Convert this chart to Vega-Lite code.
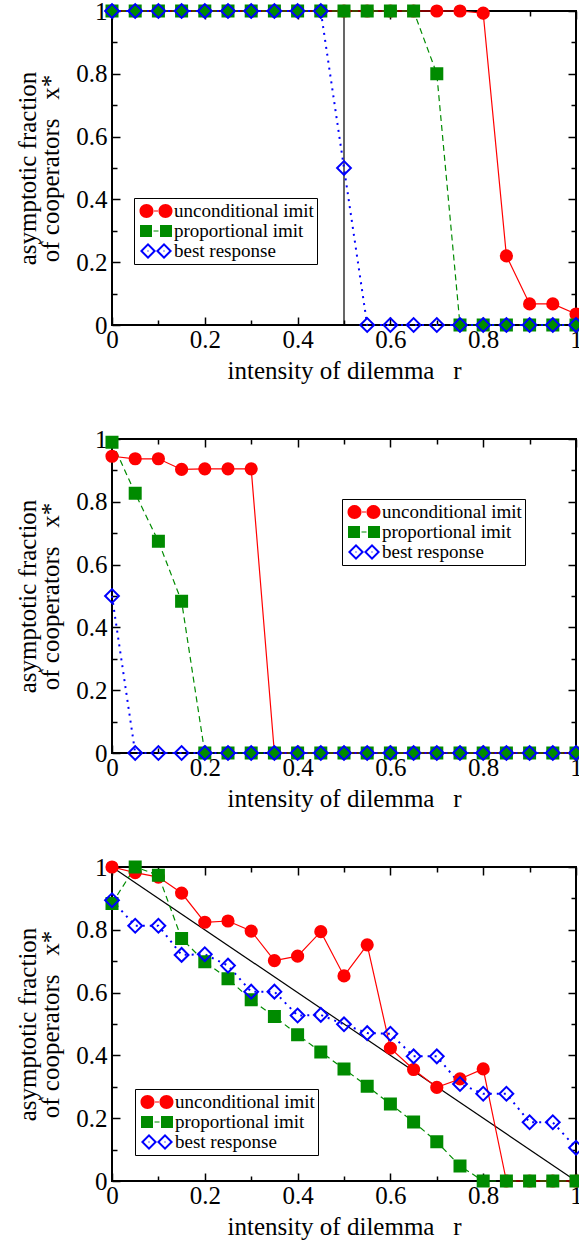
{
"$schema":"https://vega.github.io/schema/vega-lite/v6.json",
"padding":{"left":14,"top":-2,"right":0,"bottom":0},
"spacing":114,
"bounds":"flush",
"resolve":{"scale":{"fill":"independent","shape":"independent"},"legend":{"fill":"independent","shape":"independent"}},
"config":{
 "font":"Liberation Serif",
 "view":{"stroke":"black","strokeWidth":2},
 "axis":{"domain":false,"grid":false,"labelFont":"Liberation Serif","labelFontSize":25,"labelColor":"black","titleFont":"Liberation Serif","titleFontSize":25,"titleFontWeight":"normal","titleColor":"black","tickColor":"black","tickWidth":1.5,"labelFlush":false,"labelOverlap":false},
 "legend":{"labelFont":"Liberation Serif","labelFontSize":19,"labelColor":"black","labelLimit":0}
},
"datasets":{
"p1":[
{"r":0,"x":1,"series":"unconditional imit"},{"r":0.05,"x":1,"series":"unconditional imit"},{"r":0.1,"x":1,"series":"unconditional imit"},{"r":0.15,"x":1,"series":"unconditional imit"},{"r":0.2,"x":1,"series":"unconditional imit"},{"r":0.25,"x":1,"series":"unconditional imit"},{"r":0.3,"x":1,"series":"unconditional imit"},{"r":0.35,"x":1,"series":"unconditional imit"},{"r":0.4,"x":1,"series":"unconditional imit"},{"r":0.45,"x":1,"series":"unconditional imit"},{"r":0.5,"x":1,"series":"unconditional imit"},{"r":0.55,"x":1,"series":"unconditional imit"},{"r":0.6,"x":1,"series":"unconditional imit"},{"r":0.65,"x":1,"series":"unconditional imit"},{"r":0.7,"x":1,"series":"unconditional imit"},{"r":0.75,"x":1,"series":"unconditional imit"},{"r":0.8,"x":0.993,"series":"unconditional imit"},{"r":0.85,"x":0.22,"series":"unconditional imit"},{"r":0.9,"x":0.067,"series":"unconditional imit"},{"r":0.95,"x":0.067,"series":"unconditional imit"},{"r":1,"x":0.035,"series":"unconditional imit"},
{"r":0,"x":1,"series":"proportional imit"},{"r":0.05,"x":1,"series":"proportional imit"},{"r":0.1,"x":1,"series":"proportional imit"},{"r":0.15,"x":1,"series":"proportional imit"},{"r":0.2,"x":1,"series":"proportional imit"},{"r":0.25,"x":1,"series":"proportional imit"},{"r":0.3,"x":1,"series":"proportional imit"},{"r":0.35,"x":1,"series":"proportional imit"},{"r":0.4,"x":1,"series":"proportional imit"},{"r":0.45,"x":1,"series":"proportional imit"},{"r":0.5,"x":1,"series":"proportional imit"},{"r":0.55,"x":1,"series":"proportional imit"},{"r":0.6,"x":1,"series":"proportional imit"},{"r":0.65,"x":1,"series":"proportional imit"},{"r":0.7,"x":0.8,"series":"proportional imit"},{"r":0.75,"x":0,"series":"proportional imit"},{"r":0.8,"x":0,"series":"proportional imit"},{"r":0.85,"x":0,"series":"proportional imit"},{"r":0.9,"x":0,"series":"proportional imit"},{"r":0.95,"x":0,"series":"proportional imit"},{"r":1,"x":0,"series":"proportional imit"},
{"r":0,"x":1,"series":"best response"},{"r":0.05,"x":1,"series":"best response"},{"r":0.1,"x":1,"series":"best response"},{"r":0.15,"x":1,"series":"best response"},{"r":0.2,"x":1,"series":"best response"},{"r":0.25,"x":1,"series":"best response"},{"r":0.3,"x":1,"series":"best response"},{"r":0.35,"x":1,"series":"best response"},{"r":0.4,"x":1,"series":"best response"},{"r":0.45,"x":1,"series":"best response"},{"r":0.5,"x":0.5,"series":"best response"},{"r":0.55,"x":0,"series":"best response"},{"r":0.6,"x":0,"series":"best response"},{"r":0.65,"x":0,"series":"best response"},{"r":0.7,"x":0,"series":"best response"},{"r":0.75,"x":0,"series":"best response"},{"r":0.8,"x":0,"series":"best response"},{"r":0.85,"x":0,"series":"best response"},{"r":0.9,"x":0,"series":"best response"},{"r":0.95,"x":0,"series":"best response"},{"r":1,"x":0,"series":"best response"}
],
"p2":[
{"r":0,"x":0.945,"series":"unconditional imit"},{"r":0.05,"x":0.937,"series":"unconditional imit"},{"r":0.1,"x":0.937,"series":"unconditional imit"},{"r":0.15,"x":0.903,"series":"unconditional imit"},{"r":0.2,"x":0.905,"series":"unconditional imit"},{"r":0.25,"x":0.905,"series":"unconditional imit"},{"r":0.3,"x":0.905,"series":"unconditional imit"},{"r":0.35,"x":0,"series":"unconditional imit"},{"r":0.4,"x":0,"series":"unconditional imit"},{"r":0.45,"x":0,"series":"unconditional imit"},{"r":0.5,"x":0,"series":"unconditional imit"},{"r":0.55,"x":0,"series":"unconditional imit"},{"r":0.6,"x":0,"series":"unconditional imit"},{"r":0.65,"x":0,"series":"unconditional imit"},{"r":0.7,"x":0,"series":"unconditional imit"},{"r":0.75,"x":0,"series":"unconditional imit"},{"r":0.8,"x":0,"series":"unconditional imit"},{"r":0.85,"x":0,"series":"unconditional imit"},{"r":0.9,"x":0,"series":"unconditional imit"},{"r":0.95,"x":0,"series":"unconditional imit"},{"r":1,"x":0,"series":"unconditional imit"},
{"r":0,"x":0.99,"series":"proportional imit"},{"r":0.05,"x":0.827,"series":"proportional imit"},{"r":0.1,"x":0.674,"series":"proportional imit"},{"r":0.15,"x":0.483,"series":"proportional imit"},{"r":0.2,"x":0,"series":"proportional imit"},{"r":0.25,"x":0,"series":"proportional imit"},{"r":0.3,"x":0,"series":"proportional imit"},{"r":0.35,"x":0,"series":"proportional imit"},{"r":0.4,"x":0,"series":"proportional imit"},{"r":0.45,"x":0,"series":"proportional imit"},{"r":0.5,"x":0,"series":"proportional imit"},{"r":0.55,"x":0,"series":"proportional imit"},{"r":0.6,"x":0,"series":"proportional imit"},{"r":0.65,"x":0,"series":"proportional imit"},{"r":0.7,"x":0,"series":"proportional imit"},{"r":0.75,"x":0,"series":"proportional imit"},{"r":0.8,"x":0,"series":"proportional imit"},{"r":0.85,"x":0,"series":"proportional imit"},{"r":0.9,"x":0,"series":"proportional imit"},{"r":0.95,"x":0,"series":"proportional imit"},{"r":1,"x":0,"series":"proportional imit"},
{"r":0,"x":0.5,"series":"best response"},{"r":0.05,"x":0,"series":"best response"},{"r":0.1,"x":0,"series":"best response"},{"r":0.15,"x":0,"series":"best response"},{"r":0.2,"x":0,"series":"best response"},{"r":0.25,"x":0,"series":"best response"},{"r":0.3,"x":0,"series":"best response"},{"r":0.35,"x":0,"series":"best response"},{"r":0.4,"x":0,"series":"best response"},{"r":0.45,"x":0,"series":"best response"},{"r":0.5,"x":0,"series":"best response"},{"r":0.55,"x":0,"series":"best response"},{"r":0.6,"x":0,"series":"best response"},{"r":0.65,"x":0,"series":"best response"},{"r":0.7,"x":0,"series":"best response"},{"r":0.75,"x":0,"series":"best response"},{"r":0.8,"x":0,"series":"best response"},{"r":0.85,"x":0,"series":"best response"},{"r":0.9,"x":0,"series":"best response"},{"r":0.95,"x":0,"series":"best response"},{"r":1,"x":0,"series":"best response"}
],
"p3":[
{"r":0,"x":1,"series":"unconditional imit"},{"r":0.05,"x":0.982,"series":"unconditional imit"},{"r":0.1,"x":0.968,"series":"unconditional imit"},{"r":0.15,"x":0.917,"series":"unconditional imit"},{"r":0.2,"x":0.824,"series":"unconditional imit"},{"r":0.25,"x":0.828,"series":"unconditional imit"},{"r":0.3,"x":0.796,"series":"unconditional imit"},{"r":0.35,"x":0.702,"series":"unconditional imit"},{"r":0.4,"x":0.716,"series":"unconditional imit"},{"r":0.45,"x":0.794,"series":"unconditional imit"},{"r":0.5,"x":0.653,"series":"unconditional imit"},{"r":0.55,"x":0.752,"series":"unconditional imit"},{"r":0.6,"x":0.423,"series":"unconditional imit"},{"r":0.65,"x":0.355,"series":"unconditional imit"},{"r":0.7,"x":0.298,"series":"unconditional imit"},{"r":0.75,"x":0.325,"series":"unconditional imit"},{"r":0.8,"x":0.357,"series":"unconditional imit"},{"r":0.85,"x":0,"series":"unconditional imit"},{"r":0.9,"x":0,"series":"unconditional imit"},{"r":0.95,"x":0,"series":"unconditional imit"},{"r":1,"x":0,"series":"unconditional imit"},
{"r":0,"x":0.884,"series":"proportional imit"},{"r":0.05,"x":1,"series":"proportional imit"},{"r":0.1,"x":0.974,"series":"proportional imit"},{"r":0.15,"x":0.772,"series":"proportional imit"},{"r":0.2,"x":0.698,"series":"proportional imit"},{"r":0.25,"x":0.644,"series":"proportional imit"},{"r":0.3,"x":0.577,"series":"proportional imit"},{"r":0.35,"x":0.524,"series":"proportional imit"},{"r":0.4,"x":0.466,"series":"proportional imit"},{"r":0.45,"x":0.411,"series":"proportional imit"},{"r":0.5,"x":0.357,"series":"proportional imit"},{"r":0.55,"x":0.302,"series":"proportional imit"},{"r":0.6,"x":0.245,"series":"proportional imit"},{"r":0.65,"x":0.188,"series":"proportional imit"},{"r":0.7,"x":0.125,"series":"proportional imit"},{"r":0.75,"x":0.048,"series":"proportional imit"},{"r":0.8,"x":0,"series":"proportional imit"},{"r":0.85,"x":0,"series":"proportional imit"},{"r":0.9,"x":0,"series":"proportional imit"},{"r":0.95,"x":0,"series":"proportional imit"},{"r":1,"x":0,"series":"proportional imit"},
{"r":0,"x":0.894,"series":"best response"},{"r":0.05,"x":0.813,"series":"best response"},{"r":0.1,"x":0.813,"series":"best response"},{"r":0.15,"x":0.72,"series":"best response"},{"r":0.2,"x":0.722,"series":"best response"},{"r":0.25,"x":0.686,"series":"best response"},{"r":0.3,"x":0.603,"series":"best response"},{"r":0.35,"x":0.603,"series":"best response"},{"r":0.4,"x":0.527,"series":"best response"},{"r":0.45,"x":0.529,"series":"best response"},{"r":0.5,"x":0.499,"series":"best response"},{"r":0.55,"x":0.471,"series":"best response"},{"r":0.6,"x":0.469,"series":"best response"},{"r":0.65,"x":0.397,"series":"best response"},{"r":0.7,"x":0.397,"series":"best response"},{"r":0.75,"x":0.309,"series":"best response"},{"r":0.8,"x":0.278,"series":"best response"},{"r":0.85,"x":0.278,"series":"best response"},{"r":0.9,"x":0.187,"series":"best response"},{"r":0.95,"x":0.187,"series":"best response"},{"r":1,"x":0.106,"series":"best response"}
],
"ref1":[{"r":0.5,"lo":0,"hi":1}],
"ref3":[{"r":0,"x":1},{"r":1,"x":0}]
},
"vconcat":[
{
 "width":464,"height":314,
 "data":{"name":"p1"},
 "resolve":{"axis":{"x":"independent","y":"independent"}},
 "layer":[
  {"data":{"name":"ref1"},"mark":{"type":"rule","color":"black","strokeWidth":1.2},"encoding":{"x":{"field":"r","type":"quantitative","scale":{"domain":[0,1],"nice":false,"zero":false},"axis":null},"y":{"field":"lo","type":"quantitative","scale":{"domain":[0,1],"nice":false,"zero":false},"axis":null},"y2":{"field":"hi"}}},
  {"transform":[{"filter":"datum.series=='unconditional imit'"}],"mark":{"type":"line","color":"#ff0000","strokeWidth":1.2},"encoding":{"x":{"field":"r","type":"quantitative","scale":{"domain":[0,1],"nice":false,"zero":false},"axis":{"orient":"bottom","values":[0,0.1,0.2,0.3,0.4,0.5,0.6,0.7,0.8,0.9,1],"labelExpr":"round(datum.value*10)%2==0 ? format(datum.value,'~g') : ''","tickSize":{"condition":{"test":"round(datum.value*10)%2==1","value":-5},"value":-8},"labelPadding":30,"labelBaseline":"alphabetic","title":"intensity of dilemma\u00a0\u00a0 r","titleY":53,"titleBaseline":"alphabetic"}},"y":{"field":"x","type":"quantitative","scale":{"domain":[0,1],"nice":false,"zero":false},"axis":{"orient":"left","values":[0,0.1,0.2,0.3,0.4,0.5,0.6,0.7,0.8,0.9,1],"labelExpr":"round(datum.value*10)%2==0 ? format(datum.value,'~g') : ''","tickSize":{"condition":{"test":"round(datum.value*10)%2==1","value":-5},"value":-8},"labelPadding":13,"title":["asymptotic fraction","of cooperators\u00a0\u00a0 x*"],"titleAngle":270,"titleX":-77,"titleY":157,"titleBaseline":"alphabetic","titleLineHeight":23}}}},
  {"transform":[{"filter":"datum.series=='proportional imit'"}],"mark":{"type":"line","color":"#008b00","strokeWidth":1.2,"strokeDash":[6,4]},"encoding":{"x":{"field":"r","type":"quantitative","scale":{"domain":[0,1],"nice":false,"zero":false},"axis":null},"y":{"field":"x","type":"quantitative","scale":{"domain":[0,1],"nice":false,"zero":false},"axis":null}}},
  {"transform":[{"filter":"datum.series=='best response'"}],"mark":{"type":"line","color":"#0000ff","strokeWidth":2,"strokeDash":[2,5]},"encoding":{"x":{"field":"r","type":"quantitative","scale":{"domain":[0,1],"nice":false,"zero":false},"axis":null},"y":{"field":"x","type":"quantitative","scale":{"domain":[0,1],"nice":false,"zero":false},"axis":null}}},
  {"transform":[{"filter":"datum.series=='unconditional imit'"}],"mark":{"type":"point","shape":"circle","size":125,"fill":"#ff0000","stroke":"#ff0000","strokeWidth":2,"opacity":1},"encoding":{"x":{"field":"r","type":"quantitative","scale":{"domain":[0,1],"nice":false,"zero":false},"axis":{"orient":"top","values":[0,0.1,0.2,0.3,0.4,0.5,0.6,0.7,0.8,0.9,1],"tickSize":{"condition":{"test":"round(datum.value*10)%2==1","value":-5},"value":-8},"labels":false,"title":null}},"y":{"field":"x","type":"quantitative","scale":{"domain":[0,1],"nice":false,"zero":false},"axis":{"orient":"right","values":[0,0.1,0.2,0.3,0.4,0.5,0.6,0.7,0.8,0.9,1],"tickSize":{"condition":{"test":"round(datum.value*10)%2==1","value":-5},"value":-8},"labels":false,"title":null}}}},
  {"transform":[{"filter":"datum.series=='proportional imit'"}],"mark":{"type":"point","shape":"square","size":121,"fill":"#008b00","stroke":"#008b00","strokeWidth":2,"opacity":1},"encoding":{"x":{"field":"r","type":"quantitative","scale":{"domain":[0,1],"nice":false,"zero":false},"axis":null},"y":{"field":"x","type":"quantitative","scale":{"domain":[0,1],"nice":false,"zero":false},"axis":null}}},
  {"transform":[{"filter":"datum.series=='best response'"}],"mark":{"type":"point","shape":"diamond","size":190,"fill":"transparent","stroke":"#0000ff","strokeWidth":2,"opacity":1},"encoding":{"x":{"field":"r","type":"quantitative","scale":{"domain":[0,1],"nice":false,"zero":false},"axis":null},"y":{"field":"x","type":"quantitative","scale":{"domain":[0,1],"nice":false,"zero":false},"axis":null}}},
  {"transform":[{"filter":"datum.r < 0"}],"mark":{"type":"point","filled":true,"opacity":1},"encoding":{"x":{"field":"r","type":"quantitative","scale":{"domain":[0,1],"nice":false,"zero":false},"axis":null},"y":{"field":"x","type":"quantitative","scale":{"domain":[0,1],"nice":false,"zero":false},"axis":null},
   "fill":{"field":"series","type":"nominal","scale":{"domain":["unconditional imit","proportional imit","best response"],"range":["#ff0000","#008b00","#0000ff"]},"legend":{"title":null,"orient":"none","legendX":22,"legendY":187,"direction":"vertical","strokeColor":"black","fillColor":"white","padding":3,"labelOffset":8,"labelExpr":"datum.label + '\u00a0'","symbolSize":400,"symbolStrokeWidth":0,"symbolOpacity":1,"symbolOffset":9,"rowPadding":0}},
   "shape":{"field":"series","type":"nominal","scale":{"domain":["unconditional imit","proportional imit","best response"],"range":["M-1.65,0a0.7,0.7 0 1,0 1.4,0a0.7,0.7 0 1,0 -1.4,0ZM0.25,0a0.7,0.7 0 1,0 1.4,0a0.7,0.7 0 1,0 -1.4,0ZM-0.3,-0.06h0.6v0.12h-0.6Z","M-1.6,-0.6h1.2v1.2h-1.2ZM0.4,-0.6h1.2v1.2h-1.2ZM-0.25,-0.06h0.5v0.12h-0.5Z","M-1.6,0L-0.8,-0.8L0,0L-0.8,0.8ZM-1.32,0L-0.8,0.52L-0.28,0L-0.8,-0.52ZM-0.86,-0.06h0.12v0.12h-0.12ZM0,0L0.8,-0.8L1.6,0L0.8,0.8ZM0.28,0L0.8,0.52L1.32,0L0.8,-0.52ZM0.74,-0.06h0.12v0.12h-0.12Z"]},"legend":{"title":null,"orient":"none","legendX":22,"legendY":187,"direction":"vertical","strokeColor":"black","fillColor":"white","padding":3,"labelOffset":8,"labelExpr":"datum.label + '\u00a0'","symbolSize":400,"symbolStrokeWidth":0,"symbolOpacity":1,"symbolOffset":9,"rowPadding":0}}}}
 ]
},
{
 "width":464,"height":314,
 "data":{"name":"p2"},
 "resolve":{"axis":{"x":"independent","y":"independent"}},
 "layer":[
  {"transform":[{"filter":"datum.series=='unconditional imit'"}],"mark":{"type":"line","color":"#ff0000","strokeWidth":1.2},"encoding":{"x":{"field":"r","type":"quantitative","scale":{"domain":[0,1],"nice":false,"zero":false},"axis":{"orient":"bottom","values":[0,0.1,0.2,0.3,0.4,0.5,0.6,0.7,0.8,0.9,1],"labelExpr":"round(datum.value*10)%2==0 ? format(datum.value,'~g') : ''","tickSize":{"condition":{"test":"round(datum.value*10)%2==1","value":-5},"value":-8},"labelPadding":30,"labelBaseline":"alphabetic","title":"intensity of dilemma\u00a0\u00a0 r","titleY":53,"titleBaseline":"alphabetic"}},"y":{"field":"x","type":"quantitative","scale":{"domain":[0,1],"nice":false,"zero":false},"axis":{"orient":"left","values":[0,0.1,0.2,0.3,0.4,0.5,0.6,0.7,0.8,0.9,1],"labelExpr":"round(datum.value*10)%2==0 ? format(datum.value,'~g') : ''","tickSize":{"condition":{"test":"round(datum.value*10)%2==1","value":-5},"value":-8},"labelPadding":13,"title":["asymptotic fraction","of cooperators\u00a0\u00a0 x*"],"titleAngle":270,"titleX":-77,"titleY":157,"titleBaseline":"alphabetic","titleLineHeight":23}}}},
  {"transform":[{"filter":"datum.series=='proportional imit'"}],"mark":{"type":"line","color":"#008b00","strokeWidth":1.2,"strokeDash":[6,4]},"encoding":{"x":{"field":"r","type":"quantitative","scale":{"domain":[0,1],"nice":false,"zero":false},"axis":null},"y":{"field":"x","type":"quantitative","scale":{"domain":[0,1],"nice":false,"zero":false},"axis":null}}},
  {"transform":[{"filter":"datum.series=='best response'"}],"mark":{"type":"line","color":"#0000ff","strokeWidth":2,"strokeDash":[2,5]},"encoding":{"x":{"field":"r","type":"quantitative","scale":{"domain":[0,1],"nice":false,"zero":false},"axis":null},"y":{"field":"x","type":"quantitative","scale":{"domain":[0,1],"nice":false,"zero":false},"axis":null}}},
  {"transform":[{"filter":"datum.series=='unconditional imit'"}],"mark":{"type":"point","shape":"circle","size":125,"fill":"#ff0000","stroke":"#ff0000","strokeWidth":2,"opacity":1},"encoding":{"x":{"field":"r","type":"quantitative","scale":{"domain":[0,1],"nice":false,"zero":false},"axis":{"orient":"top","values":[0,0.1,0.2,0.3,0.4,0.5,0.6,0.7,0.8,0.9,1],"tickSize":{"condition":{"test":"round(datum.value*10)%2==1","value":-5},"value":-8},"labels":false,"title":null}},"y":{"field":"x","type":"quantitative","scale":{"domain":[0,1],"nice":false,"zero":false},"axis":{"orient":"right","values":[0,0.1,0.2,0.3,0.4,0.5,0.6,0.7,0.8,0.9,1],"tickSize":{"condition":{"test":"round(datum.value*10)%2==1","value":-5},"value":-8},"labels":false,"title":null}}}},
  {"transform":[{"filter":"datum.series=='proportional imit'"}],"mark":{"type":"point","shape":"square","size":121,"fill":"#008b00","stroke":"#008b00","strokeWidth":2,"opacity":1},"encoding":{"x":{"field":"r","type":"quantitative","scale":{"domain":[0,1],"nice":false,"zero":false},"axis":null},"y":{"field":"x","type":"quantitative","scale":{"domain":[0,1],"nice":false,"zero":false},"axis":null}}},
  {"transform":[{"filter":"datum.series=='best response'"}],"mark":{"type":"point","shape":"diamond","size":190,"fill":"transparent","stroke":"#0000ff","strokeWidth":2,"opacity":1},"encoding":{"x":{"field":"r","type":"quantitative","scale":{"domain":[0,1],"nice":false,"zero":false},"axis":null},"y":{"field":"x","type":"quantitative","scale":{"domain":[0,1],"nice":false,"zero":false},"axis":null}}},
  {"transform":[{"filter":"datum.r < 0"}],"mark":{"type":"point","filled":true,"opacity":1},"encoding":{"x":{"field":"r","type":"quantitative","scale":{"domain":[0,1],"nice":false,"zero":false},"axis":null},"y":{"field":"x","type":"quantitative","scale":{"domain":[0,1],"nice":false,"zero":false},"axis":null},
   "fill":{"field":"series","type":"nominal","scale":{"domain":["unconditional imit","proportional imit","best response"],"range":["#ff0000","#008b00","#0000ff"]},"legend":{"title":null,"orient":"none","legendX":230,"legendY":60,"direction":"vertical","strokeColor":"black","fillColor":"white","padding":3,"labelOffset":8,"labelExpr":"datum.label + '\u00a0'","symbolSize":400,"symbolStrokeWidth":0,"symbolOpacity":1,"symbolOffset":9,"rowPadding":0}},
   "shape":{"field":"series","type":"nominal","scale":{"domain":["unconditional imit","proportional imit","best response"],"range":["M-1.65,0a0.7,0.7 0 1,0 1.4,0a0.7,0.7 0 1,0 -1.4,0ZM0.25,0a0.7,0.7 0 1,0 1.4,0a0.7,0.7 0 1,0 -1.4,0ZM-0.3,-0.06h0.6v0.12h-0.6Z","M-1.6,-0.6h1.2v1.2h-1.2ZM0.4,-0.6h1.2v1.2h-1.2ZM-0.25,-0.06h0.5v0.12h-0.5Z","M-1.6,0L-0.8,-0.8L0,0L-0.8,0.8ZM-1.32,0L-0.8,0.52L-0.28,0L-0.8,-0.52ZM-0.86,-0.06h0.12v0.12h-0.12ZM0,0L0.8,-0.8L1.6,0L0.8,0.8ZM0.28,0L0.8,0.52L1.32,0L0.8,-0.52ZM0.74,-0.06h0.12v0.12h-0.12Z"]},"legend":{"title":null,"orient":"none","legendX":230,"legendY":60,"direction":"vertical","strokeColor":"black","fillColor":"white","padding":3,"labelOffset":8,"labelExpr":"datum.label + '\u00a0'","symbolSize":400,"symbolStrokeWidth":0,"symbolOpacity":1,"symbolOffset":9,"rowPadding":0}}}}
 ]
},
{
 "width":464,"height":314,
 "data":{"name":"p3"},
 "resolve":{"axis":{"x":"independent","y":"independent"}},
 "layer":[
  {"data":{"name":"ref3"},"mark":{"type":"line","color":"black","strokeWidth":1.2},"encoding":{"x":{"field":"r","type":"quantitative","scale":{"domain":[0,1],"nice":false,"zero":false},"axis":null},"y":{"field":"x","type":"quantitative","scale":{"domain":[0,1],"nice":false,"zero":false},"axis":null}}},
  {"transform":[{"filter":"datum.series=='unconditional imit'"}],"mark":{"type":"line","color":"#ff0000","strokeWidth":1.2},"encoding":{"x":{"field":"r","type":"quantitative","scale":{"domain":[0,1],"nice":false,"zero":false},"axis":{"orient":"bottom","values":[0,0.1,0.2,0.3,0.4,0.5,0.6,0.7,0.8,0.9,1],"labelExpr":"round(datum.value*10)%2==0 ? format(datum.value,'~g') : ''","tickSize":{"condition":{"test":"round(datum.value*10)%2==1","value":-5},"value":-8},"labelPadding":30,"labelBaseline":"alphabetic","title":"intensity of dilemma\u00a0\u00a0 r","titleY":53,"titleBaseline":"alphabetic"}},"y":{"field":"x","type":"quantitative","scale":{"domain":[0,1],"nice":false,"zero":false},"axis":{"orient":"left","values":[0,0.1,0.2,0.3,0.4,0.5,0.6,0.7,0.8,0.9,1],"labelExpr":"round(datum.value*10)%2==0 ? format(datum.value,'~g') : ''","tickSize":{"condition":{"test":"round(datum.value*10)%2==1","value":-5},"value":-8},"labelPadding":13,"title":["asymptotic fraction","of cooperators\u00a0\u00a0 x*"],"titleAngle":270,"titleX":-77,"titleY":157,"titleBaseline":"alphabetic","titleLineHeight":23}}}},
  {"transform":[{"filter":"datum.series=='proportional imit'"}],"mark":{"type":"line","color":"#008b00","strokeWidth":1.2,"strokeDash":[6,4]},"encoding":{"x":{"field":"r","type":"quantitative","scale":{"domain":[0,1],"nice":false,"zero":false},"axis":null},"y":{"field":"x","type":"quantitative","scale":{"domain":[0,1],"nice":false,"zero":false},"axis":null}}},
  {"transform":[{"filter":"datum.series=='best response'"}],"mark":{"type":"line","color":"#0000ff","strokeWidth":2,"strokeDash":[2,5]},"encoding":{"x":{"field":"r","type":"quantitative","scale":{"domain":[0,1],"nice":false,"zero":false},"axis":null},"y":{"field":"x","type":"quantitative","scale":{"domain":[0,1],"nice":false,"zero":false},"axis":null}}},
  {"transform":[{"filter":"datum.series=='unconditional imit'"}],"mark":{"type":"point","shape":"circle","size":125,"fill":"#ff0000","stroke":"#ff0000","strokeWidth":2,"opacity":1},"encoding":{"x":{"field":"r","type":"quantitative","scale":{"domain":[0,1],"nice":false,"zero":false},"axis":{"orient":"top","values":[0,0.1,0.2,0.3,0.4,0.5,0.6,0.7,0.8,0.9,1],"tickSize":{"condition":{"test":"round(datum.value*10)%2==1","value":-5},"value":-8},"labels":false,"title":null}},"y":{"field":"x","type":"quantitative","scale":{"domain":[0,1],"nice":false,"zero":false},"axis":{"orient":"right","values":[0,0.1,0.2,0.3,0.4,0.5,0.6,0.7,0.8,0.9,1],"tickSize":{"condition":{"test":"round(datum.value*10)%2==1","value":-5},"value":-8},"labels":false,"title":null}}}},
  {"transform":[{"filter":"datum.series=='proportional imit'"}],"mark":{"type":"point","shape":"square","size":121,"fill":"#008b00","stroke":"#008b00","strokeWidth":2,"opacity":1},"encoding":{"x":{"field":"r","type":"quantitative","scale":{"domain":[0,1],"nice":false,"zero":false},"axis":null},"y":{"field":"x","type":"quantitative","scale":{"domain":[0,1],"nice":false,"zero":false},"axis":null}}},
  {"transform":[{"filter":"datum.series=='best response'"}],"mark":{"type":"point","shape":"diamond","size":190,"fill":"transparent","stroke":"#0000ff","strokeWidth":2,"opacity":1},"encoding":{"x":{"field":"r","type":"quantitative","scale":{"domain":[0,1],"nice":false,"zero":false},"axis":null},"y":{"field":"x","type":"quantitative","scale":{"domain":[0,1],"nice":false,"zero":false},"axis":null}}},
  {"transform":[{"filter":"datum.r < 0"}],"mark":{"type":"point","filled":true,"opacity":1},"encoding":{"x":{"field":"r","type":"quantitative","scale":{"domain":[0,1],"nice":false,"zero":false},"axis":null},"y":{"field":"x","type":"quantitative","scale":{"domain":[0,1],"nice":false,"zero":false},"axis":null},
   "fill":{"field":"series","type":"nominal","scale":{"domain":["unconditional imit","proportional imit","best response"],"range":["#ff0000","#008b00","#0000ff"]},"legend":{"title":null,"orient":"none","legendX":23,"legendY":222,"direction":"vertical","strokeColor":"black","fillColor":"white","padding":3,"labelOffset":8,"labelExpr":"datum.label + '\u00a0'","symbolSize":400,"symbolStrokeWidth":0,"symbolOpacity":1,"symbolOffset":9,"rowPadding":0}},
   "shape":{"field":"series","type":"nominal","scale":{"domain":["unconditional imit","proportional imit","best response"],"range":["M-1.65,0a0.7,0.7 0 1,0 1.4,0a0.7,0.7 0 1,0 -1.4,0ZM0.25,0a0.7,0.7 0 1,0 1.4,0a0.7,0.7 0 1,0 -1.4,0ZM-0.3,-0.06h0.6v0.12h-0.6Z","M-1.6,-0.6h1.2v1.2h-1.2ZM0.4,-0.6h1.2v1.2h-1.2ZM-0.25,-0.06h0.5v0.12h-0.5Z","M-1.6,0L-0.8,-0.8L0,0L-0.8,0.8ZM-1.32,0L-0.8,0.52L-0.28,0L-0.8,-0.52ZM-0.86,-0.06h0.12v0.12h-0.12ZM0,0L0.8,-0.8L1.6,0L0.8,0.8ZM0.28,0L0.8,0.52L1.32,0L0.8,-0.52ZM0.74,-0.06h0.12v0.12h-0.12Z"]},"legend":{"title":null,"orient":"none","legendX":23,"legendY":222,"direction":"vertical","strokeColor":"black","fillColor":"white","padding":3,"labelOffset":8,"labelExpr":"datum.label + '\u00a0'","symbolSize":400,"symbolStrokeWidth":0,"symbolOpacity":1,"symbolOffset":9,"rowPadding":0}}}}
 ]
}
]
}
